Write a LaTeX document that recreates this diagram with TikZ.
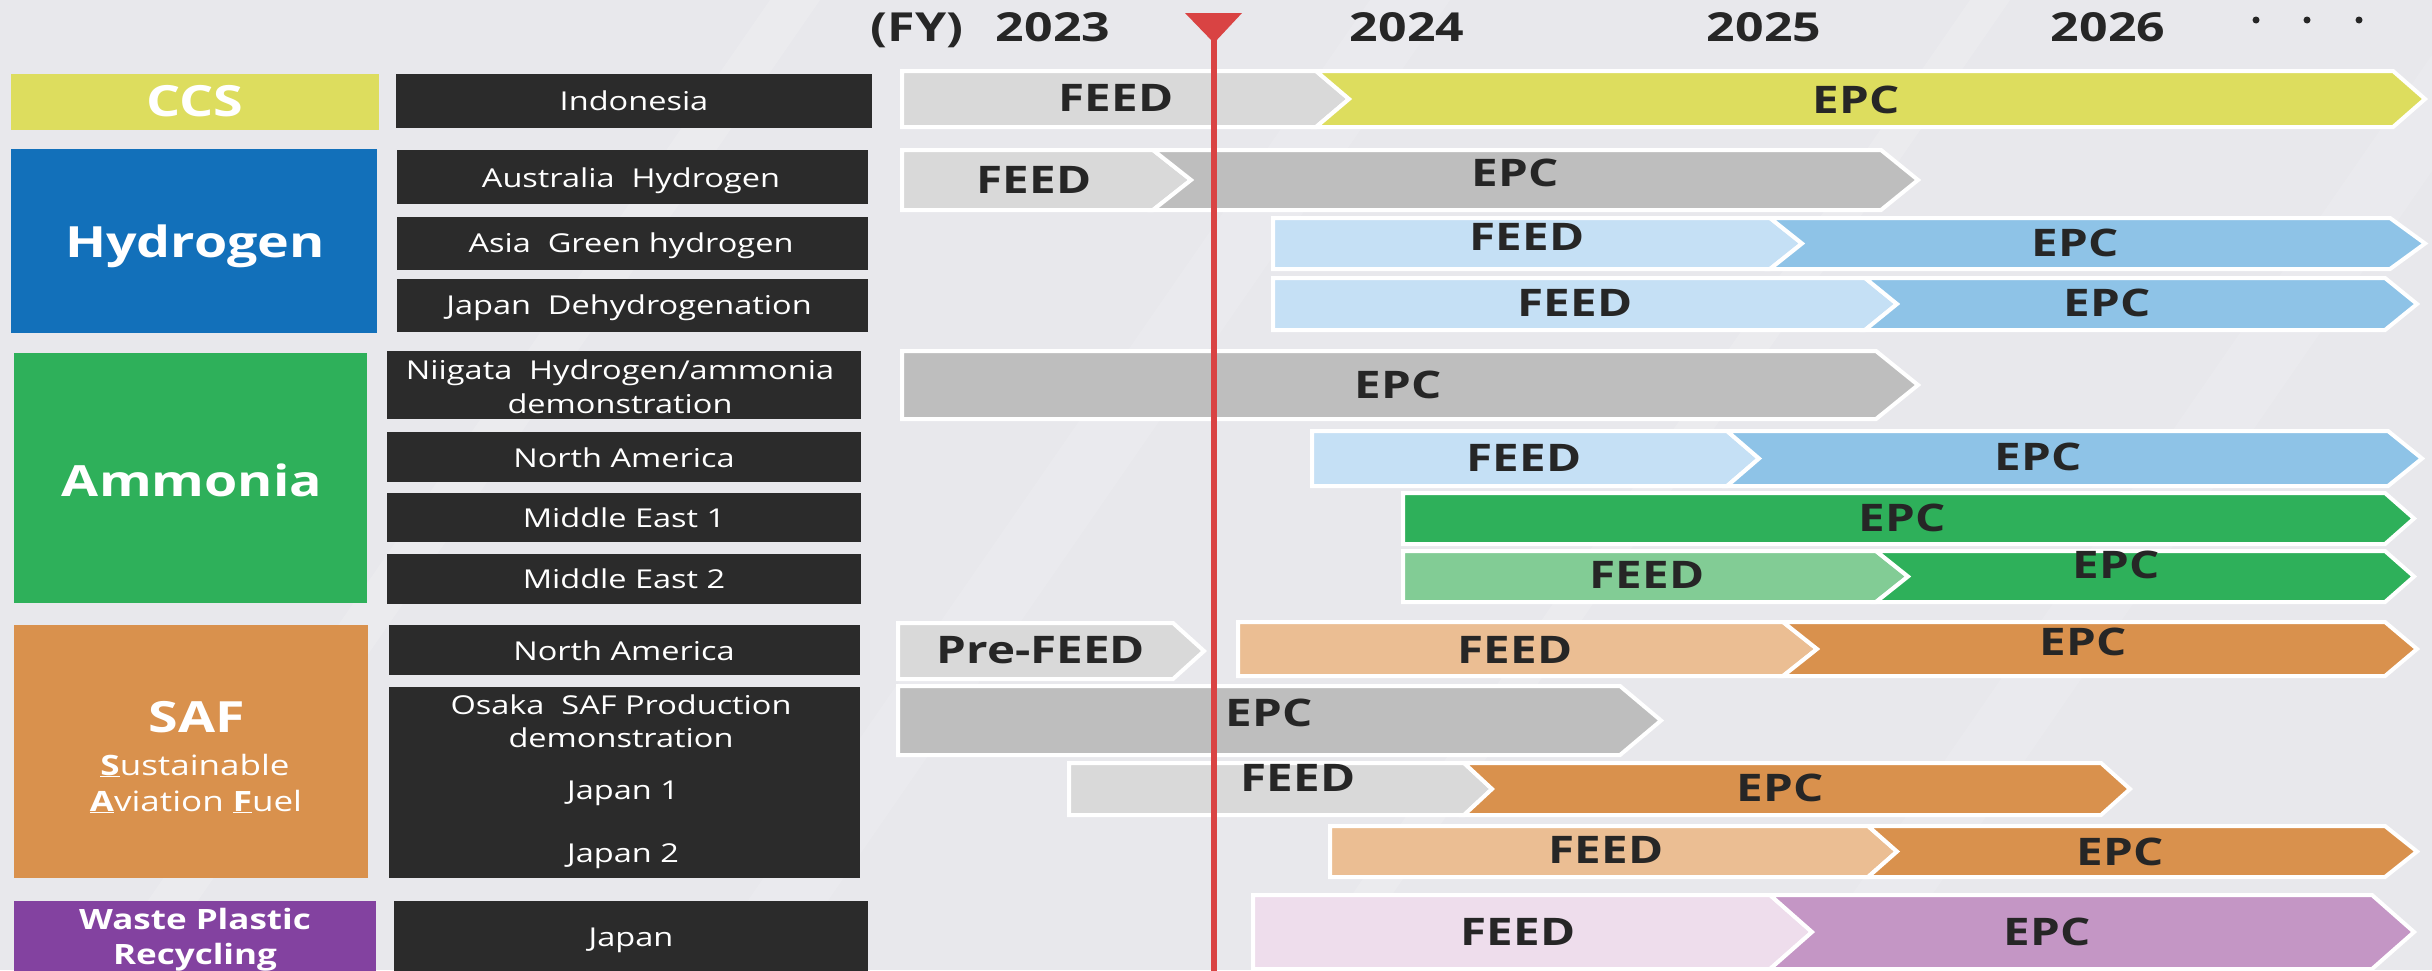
\documentclass[tikz,border=0pt]{standalone}
\usepackage{fontspec}
\setmainfont{Open Sans}[FakeStretch=1.25]
\definecolor{bgc}{HTML}{E8E8EC}
\definecolor{ccsc}{HTML}{DDDD5E}
\definecolor{h2c}{HTML}{1270BA}
\definecolor{nh3c}{HTML}{2EB05A}
\definecolor{safc}{HTML}{D9914D}
\definecolor{wpc}{HTML}{8342A0}
\definecolor{blkc}{HTML}{2B2B2B}
\definecolor{txtc}{HTML}{262626}
\definecolor{gA}{HTML}{D9D9D9}
\definecolor{gB}{HTML}{BEBEBE}
\definecolor{bA}{HTML}{C5E0F5}
\definecolor{bB}{HTML}{8EC3E7}
\definecolor{grA}{HTML}{82CC95}
\definecolor{grB}{HTML}{2EB05A}
\definecolor{oA}{HTML}{EBBE93}
\definecolor{oB}{HTML}{D9914D}
\definecolor{pA}{HTML}{EEDDEC}
\definecolor{pB}{HTML}{C496C5}
\definecolor{redc}{HTML}{D94343}
\newcommand\firstseg[6]{%
  \path[segstyle, fill=#1] (#2,#5) -- (#3,#5) -- (#4,{(#5+#6)/2}) -- (#3,#6) -- (#2,#6) -- cycle;}
\newcommand\nextseg[7]{%
  \path[segstyle, fill=#1] (#2,#6) -- (#4,#6) -- (#5,{(#6+#7)/2}) -- (#4,#7) -- (#2,#7) -- (#3,{(#6+#7)/2}) -- cycle;}
\tikzset{
  segstyle/.style={draw=white, line width=4pt, line join=miter},
  capbase/.style={inner sep=0pt, outer sep=0pt, text depth=0pt, anchor=center},
  lbl/.style={capbase, text=white, text height=18.6pt, font=\fontsize{26}{30}\selectfont},
  cattxt/.style={capbase, text=white, text height=30.7pt, font=\bfseries\fontsize{43}{50}\selectfont},
  subtxt/.style={capbase, text=white, text height=20pt, font=\fontsize{28}{32}\selectfont},
  wptxt/.style={capbase, text=white, text height=20pt, font=\bfseries\fontsize{28}{32}\selectfont},
  phase/.style={capbase, text=txtc, text height=27.1pt, font=\bfseries\fontsize{38}{44}\selectfont},
  yr/.style={capbase, text=txtc, text height=28.6pt, font=\bfseries\fontsize{40}{46}\selectfont},
}
\begin{document}
\begin{tikzpicture}[x=1pt,y=-1pt]
\useasboundingbox (0,0) rectangle (2432,970);
\fill[bgc] (0,0) rectangle (2432,970);
\begin{scope}
\clip (0,0) rectangle (2432,970);
\fill[white, opacity=0.15] (100,970) -- (150,970) -- (820,0) -- (770,0) -- cycle;
\fill[white, opacity=0.12] (700,970) -- (780,970) -- (1450,0) -- (1370,0) -- cycle;
\fill[white, opacity=0.15] (1300,970) -- (1340,970) -- (2010,0) -- (1970,0) -- cycle;
\fill[white, opacity=0.12] (1800,970) -- (1880,970) -- (2550,0) -- (2470,0) -- cycle;
\end{scope}

% category boxes
\fill[ccsc] (11,74) rectangle (379,130);
\node[cattxt] (ccs) at (195,101) {CCS};
\fill[h2c] (11,149) rectangle (377,333);
\node[cattxt] (h2) at (195,242) {Hydrogen};
\fill[nh3c] (14,353) rectangle (367,603);
\node[cattxt] (nh3) at (192,481) {Ammonia};
\fill[safc] (14,625) rectangle (368,878);
\node[cattxt] (saf) at (197,717) {SAF};
\node[subtxt] (safa) at (195,765) {\underline{\textbf{S}}ustainable};
\node[subtxt] (safb) at (196,801) {\underline{\textbf{A}}viation \underline{\textbf{F}}uel};
\fill[wpc] (14,901) rectangle (376,975);
\node[wptxt] (wpa) at (195,919) {Waste Plastic};
\node[wptxt] (wpb) at (195,954) {Recycling};

% project label boxes
\fill[blkc] (396,74) rectangle (872,128);
\node[lbl] (l1) at (634,101) {Indonesia};
\fill[blkc] (397,150) rectangle (868,204);
\node[lbl] (l2) at (631,178) {Australia\ \ Hydrogen};
\fill[blkc] (397,217) rectangle (868,270);
\node[lbl] (l3) at (631,243) {Asia\ \ Green hydrogen};
\fill[blkc] (397,279) rectangle (868,332);
\node[lbl] (l4) at (629,305) {Japan\ \ Dehydrogenation};
\fill[blkc] (387,351) rectangle (861,419);
\node[lbl] (l5a) at (620,370) {Niigata\ \ Hydrogen/ammonia};
\node[lbl] (l5b) at (620,404) {demonstration};
\fill[blkc] (387,432) rectangle (861,482);
\node[lbl] (l6) at (624,458) {North America};
\fill[blkc] (387,493) rectangle (861,542);
\node[lbl] (l7) at (624,518) {Middle East 1};
\fill[blkc] (387,554) rectangle (861,604);
\node[lbl] (l8) at (624,579) {Middle East 2};
\fill[blkc] (389,625) rectangle (860,675);
\node[lbl] (l9) at (624,651) {North America};
\fill[blkc] (389,687) rectangle (860,878);
\node[lbl] (l10a) at (621,705) {Osaka\ \ SAF Production};
\node[lbl] (l10b) at (621,738) {demonstration};
\node[lbl] (l11) at (623,790) {Japan 1};
\node[lbl] (l12) at (623,853) {Japan 2};
\fill[blkc] (394,901) rectangle (868,975);
\node[lbl] (l13) at (631,937) {Japan};

% timeline bars
\firstseg{gA}{902}{1316}{1349}{71}{127}
\nextseg{ccsc}{1316}{1349}{2393}{2425}{71}{127}
\firstseg{gA}{902}{1153}{1191}{150}{210}
\nextseg{gB}{1153}{1191}{1881}{1918}{150}{210}
\firstseg{bA}{1273}{1770}{1802}{218}{269}
\nextseg{bB}{1770}{1802}{2390}{2425}{218}{269}
\firstseg{bA}{1273}{1865}{1897}{278}{330}
\nextseg{bB}{1865}{1897}{2385}{2417}{278}{330}
\firstseg{gB}{902}{1876}{1918}{351}{419}
\firstseg{bA}{1312}{1727}{1759}{431}{486}
\nextseg{bB}{1727}{1759}{2388}{2422}{431}{486}
\firstseg{grB}{1403}{2385}{2414}{493}{544}
\firstseg{grA}{1403}{1876}{1908}{551}{602}
\nextseg{grB}{1876}{1908}{2385}{2414}{551}{602}
\firstseg{gA}{898}{1173}{1204}{623}{679}
\firstseg{oA}{1238}{1783}{1817}{622}{676}
\nextseg{oB}{1783}{1817}{2385}{2417}{622}{676}
\firstseg{gB}{898}{1620}{1661}{686}{755}
\firstseg{gA}{1069}{1464}{1492}{763}{815}
\nextseg{oB}{1464}{1492}{2101}{2130}{763}{815}
\firstseg{oA}{1330}{1868}{1897}{826}{877}
\nextseg{oB}{1868}{1897}{2385}{2417}{826}{877}
\firstseg{pA}{1253}{1770}{1812}{895}{969}
\nextseg{pB}{1770}{1812}{2372}{2414}{895}{969}

% today marker
\coordinate (mtop) at (1214,20);
\coordinate (mbot) at (1214,975);
\draw[redc, line width=6pt] (mtop) -- (mbot);
\fill[redc] (1185,13) -- (1242,13) -- (1214,43) -- cycle;

% years
\node[yr] (fy) at (917,27) {(FY)};
\node[yr] (y23) at (1053,27) {2023};
\node[yr] (y24) at (1407,27) {2024};
\node[yr] (y25) at (1764,27) {2025};
\node[yr] (y26) at (2108,27) {2026};
\fill[txtc] (2256,20) circle (3.5pt);
\fill[txtc] (2307,20) circle (3.5pt);
\fill[txtc] (2359,20) circle (3.5pt);

% phase labels
\node[phase] (p1a) at (1116,98) {FEED};
\node[phase] (p1b) at (1856,100) {EPC};
\node[phase] (p2a) at (1034,180) {FEED};
\node[phase] (p2b) at (1515,173) {EPC};
\node[phase] (p3a) at (1527,237) {FEED};
\node[phase] (p3b) at (2075,243) {EPC};
\node[phase] (p4a) at (1575,303) {FEED};
\node[phase] (p4b) at (2107,303) {EPC};
\node[phase] (p5) at (1398,385) {EPC};
\node[phase] (p6a) at (1524,458) {FEED};
\node[phase] (p6b) at (2038,457) {EPC};
\node[phase] (p7) at (1902,518) {EPC};
\node[phase] (p8a) at (1647,575) {FEED};
\node[phase] (p8b) at (2116,565) {EPC};
\node[phase] (p9a) at (1041,650) {Pre-FEED};
\node[phase] (p9b) at (1515,650) {FEED};
\node[phase] (p9c) at (2083,642) {EPC};
\node[phase] (p10) at (1269,713) {EPC};
\node[phase] (p11a) at (1298,778) {FEED};
\node[phase] (p11b) at (1780,788) {EPC};
\node[phase] (p12a) at (1606,850) {FEED};
\node[phase] (p12b) at (2120,852) {EPC};
\node[phase] (p13a) at (1518,932) {FEED};
\node[phase] (p13b) at (2047,932) {EPC};
\end{tikzpicture}
\end{document}
